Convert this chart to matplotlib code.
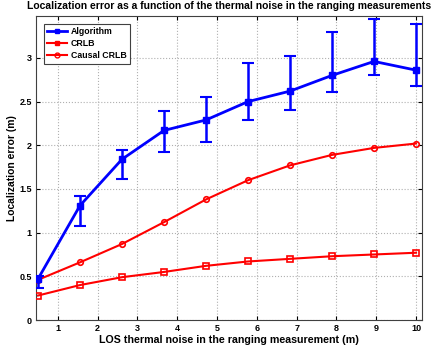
import matplotlib
matplotlib.use('Agg')
import matplotlib.pyplot as plt
from matplotlib.lines import Line2D
import numpy as np

# thermal noise levels (m)
noise = np.linspace(0.5, 10, 10)

alg_mean = [0.47, 1.31, 1.84, 2.17, 2.29, 2.50, 2.62, 2.80, 2.96, 2.86]
alg_low = [0.37, 1.08, 1.61, 1.92, 2.04, 2.29, 2.40, 2.61, 2.81, 2.68]
alg_high = [0.50, 1.42, 1.95, 2.39, 2.55, 2.94, 3.02, 3.30, 3.45, 3.39]
crlb = [0.28, 0.40, 0.49, 0.55, 0.62, 0.67, 0.70, 0.73, 0.75, 0.77]
causal_crlb = [0.46, 0.66, 0.87, 1.12, 1.38, 1.60, 1.77, 1.89, 1.97, 2.02]

xticks = [1, 2, 3, 4, 5, 6, 7, 8, 9, 10]
yticks = [0, 0.5, 1, 1.5, 2, 2.5, 3]

plt.rcParams['font.family'] = ['Liberation Sans', 'DejaVu Sans']
plt.rcParams['font.weight'] = 'bold'

fig = plt.figure(figsize=(4.4, 3.46), dpi=100)
ax = fig.add_axes([36/440, 1 - 320/346, (422 - 36)/440, (320 - 16)/346])

mean = np.array(alg_mean)
yerr = [mean - np.array(alg_low), np.array(alg_high) - mean]
ax.errorbar(noise, mean, yerr=yerr, color='blue', linewidth=2, marker='s',
            markersize=4, markerfacecolor='blue', capsize=4, capthick=1.5,
            elinewidth=1.8, zorder=4)
ax.plot(noise, crlb, color='red', linewidth=1.5, marker='s', markersize=4,
        markerfacecolor='none', markeredgewidth=1.2, zorder=3)
ax.plot(noise, causal_crlb, color='red', linewidth=1.5, marker='o', markersize=4,
        markerfacecolor='none', markeredgewidth=1.2, zorder=3)

ax.set_xlim(0.45, 10.15)
ax.set_ylim(0, 3.48)
ax.set_xticks(xticks)
ax.set_yticks(yticks)
ax.set_yticklabels(['0', '0.5', '1', '1.5', '2', '2.5', '3'])
ax.tick_params(direction='in', top=True, right=True, labelsize=6.5, length=3, pad=3)
ax.grid(True, linestyle=':', color='#b0b0b0', linewidth=0.8)
for s in ax.spines.values():
    s.set_color('#404040')
    s.set_linewidth(0.8)

ax.set_xlabel('LOS thermal noise in the ranging measurement (m)', fontsize=7.7,
              fontweight='bold', labelpad=1)
ax.set_ylabel('Localization error (m)', fontsize=7.4, fontweight='bold')
ax.yaxis.set_label_coords(-0.05, 0.5)
ax.set_title('Localization error as a function of the thermal noise in the ranging measurements',
             fontsize=7.5, fontweight='bold', pad=5)

handles = [
    Line2D([0], [0], color='blue', linewidth=2, marker='s', markersize=3.5),
    Line2D([0], [0], color='red', linewidth=1.5, marker='s', markersize=3.5),
    Line2D([0], [0], color='red', linewidth=1.5, marker='o', markersize=3.5,
           markerfacecolor='none'),
]
leg = ax.legend(handles, ['Algorithm', 'CRLB', 'Causal CRLB'], loc='upper left',
                fontsize=6.3, fancybox=False, framealpha=1, edgecolor='#404040',
                borderaxespad=0.9, handlelength=2.2, handletextpad=0.5,
                labelspacing=0.35, borderpad=0.4)
leg.get_frame().set_linewidth(0.8)

plt.savefig('out.png', dpi=100)
plt.close()
